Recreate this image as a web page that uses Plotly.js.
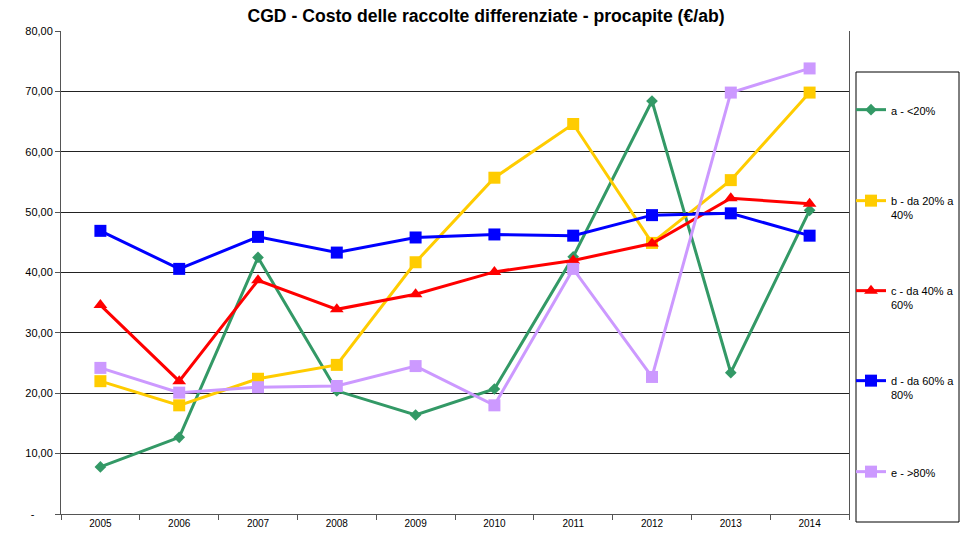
<!DOCTYPE html>
<html>
<head>
<meta charset="utf-8">
<script src="https://cdn.plot.ly/plotly-3.0.1.min.js"></script>
<style>html,body{margin:0;padding:0;background:#fff;}</style>
</head>
<body>
<div id="chart" style="width:972px;height:537px;"></div>
<script>
const years = ["2005","2006","2007","2008","2009","2010","2011","2012","2013","2014"];
const seriesNames = ["a - &lt;20%", "b - da 20% a<br>40%", "c - da 40% a<br>60%", "d - da 60% a<br>80%", "e - &gt;80%"];
const serieA = [7.8, 12.7, 42.5, 20.4, 16.4, 20.7, 42.6, 68.4, 23.4, 50.3];
const serieB = [22.0, 18.0, 22.4, 24.7, 41.7, 55.7, 64.6, 44.9, 55.3, 69.8];
const serieC = [34.6, 22.0, 38.7, 33.9, 36.4, 40.1, 42.0, 44.8, 52.3, 51.4];
const serieD = [46.9, 40.6, 45.9, 43.3, 45.8, 46.3, 46.1, 49.5, 49.8, 46.1];
const serieE = [24.2, 20.1, 21.0, 21.2, 24.5, 18.0, 40.6, 22.7, 69.8, 73.8];
const yTickVals = [0, 10, 20, 30, 40, 50, 60, 70, 80];
const yTickText = ["-\u00a0\u00a0\u00a0\u00a0\u00a0\u00a0", "10,00", "20,00", "30,00", "40,00", "50,00", "60,00", "70,00", "80,00"];

const colors = ["#339966", "#FFCC00", "#FF0000", "#0000FF", "#CC99FF"];
const symbols = ["diamond", "square", "triangle-up", "square", "square"];
const sizes = [9, 12, 12, 12, 12];
const allSeries = [serieA, serieB, serieC, serieD, serieE];
const legendIds = ["legend", "legend2", "legend3", "legend4", "legend5"];
const legendTopPx = [96, 187, 277, 367, 458];

const traces = allSeries.map((vals, i) => ({
  type: "scatter",
  mode: "lines+markers",
  x: years,
  y: vals,
  name: seriesNames[i],
  legend: legendIds[i],
  line: {color: colors[i], width: 3},
  marker: {color: colors[i], symbol: symbols[i], size: sizes[i]},
  cliponaxis: false
}));

const plotTop = 31, plotBottom = 514, plotH = plotBottom - plotTop;
const plotLeft = 61, plotRight = 849, plotW = plotRight - plotLeft;
function py(p) { return (plotBottom - p) / plotH; }
function px(p) { return (p - plotLeft) / plotW; }

const layout = {
  width: 972,
  height: 537,
  paper_bgcolor: "#ffffff",
  plot_bgcolor: "#ffffff",
  margin: {l: plotLeft, r: 972 - plotRight, t: plotTop, b: 537 - plotBottom, pad: 0, autoexpand: false},
  font: {family: "Liberation Sans, Arial, sans-serif", color: "#000", size: 11},
  title: {
    text: "<b>CGD - Costo delle raccolte differenziate - procapite (€/ab)</b>",
    font: {size: 17.6, family: "Liberation Sans, Arial, sans-serif", color: "#000"},
    x: 0.5, xanchor: "center", xref: "container",
    y: 1 - 16 / 537, yanchor: "middle"
  },
  showlegend: true,
  xaxis: {
    type: "category",
    range: [-0.5, 9.5],
    showgrid: false,
    showline: true,
    linecolor: "#555",
    linewidth: 1,
    mirror: false,
    ticks: "outside",
    tickson: "boundaries",
    ticklen: 5,
    tickcolor: "#555",
    tickfont: {size: 10, color: "#000"},
    zeroline: false,
    fixedrange: true
  },
  yaxis: {
    range: [0, 80],
    tickvals: yTickVals,
    ticktext: yTickText,
    showgrid: true,
    gridcolor: "#222",
    gridwidth: 1,
    showline: true,
    linecolor: "#555",
    linewidth: 1,
    mirror: true,
    ticks: "outside",
    ticklen: 5,
    tickcolor: "#555",
    tickfont: {size: 11, color: "#000"},
    zeroline: false,
    fixedrange: true
  },
  shapes: [{
    type: "rect", xref: "paper", yref: "paper",
    x0: px(856), x1: px(959), y0: py(522), y1: py(72),
    line: {color: "#000", width: 1}, fillcolor: "rgba(0,0,0,0)"
  }]
};

legendIds.forEach((id, i) => {
  layout[id] = {
    x: px(851), xanchor: "left",
    y: py(legendTopPx[i]), yanchor: "top",
    bgcolor: "rgba(0,0,0,0)",
    borderwidth: 0,
    valign: "top",
    itemwidth: 30,
    font: {size: 11, color: "#000", family: "Liberation Sans, Arial, sans-serif"}
  };
});

Plotly.newPlot("chart", traces, layout, {displayModeBar: false, staticPlot: true});
</script>
</body>
</html>
